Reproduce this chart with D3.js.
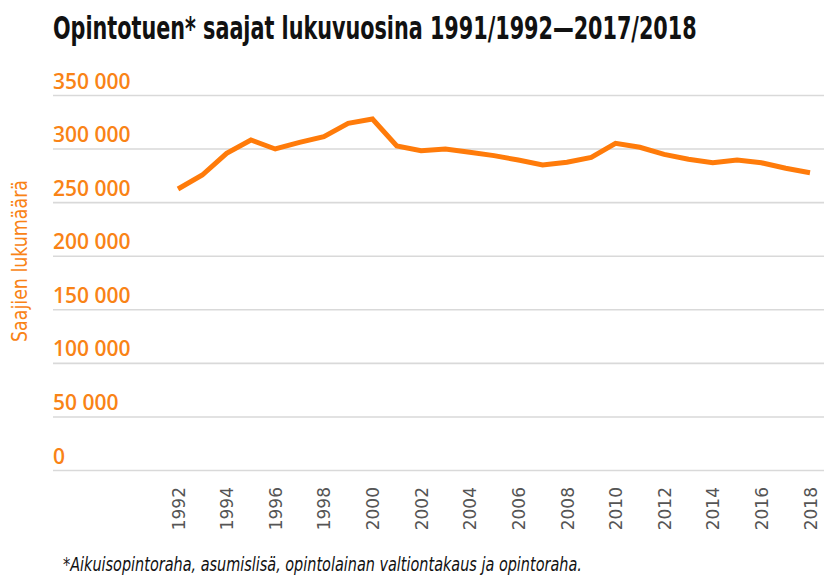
<!DOCTYPE html>
<html>
<head>
<meta charset="utf-8">
<script src="https://cdn.jsdelivr.net/npm/d3@7"></script>
<style>
  html, body { margin: 0; padding: 0; background: #fff; }
  svg { display: block; }
</style>
</head>
<body>
<div id="chart"></div>
<script>
// data
const years = [1992, 1993, 1994, 1995, 1996, 1997, 1998, 1999, 2000, 2001, 2002, 2003, 2004,
               2005, 2006, 2007, 2008, 2009, 2010, 2011, 2012, 2013, 2014, 2015, 2016, 2017, 2018];
const recipients = [262300, 275300, 295600, 308000, 299600, 305800, 311100, 323600, 327600, 302400,
                    298000, 299600, 296500, 293400, 289300, 284700, 287200, 291800, 304900, 301200,
                    294600, 290000, 286800, 289300, 286800, 281600, 277500];
const yTicks = [0, 50000, 100000, 150000, 200000, 250000, 300000, 350000];
const xTicks = [1992, 1994, 1996, 1998, 2000, 2002, 2004, 2006, 2008, 2010, 2012, 2014, 2016, 2018];

const titleText = "Opintotuen* saajat lukuvuosina 1991/1992\u20142017/2018";
const yTitle = "Saajien lukumäärä";
const footText = "*Aikuisopintoraha, asumislisä, opintolainan valtiontakaus ja opintoraha.";

const W = 824, H = 576;
const orange = "#ff7b0a";
const labelOrange = "#f98316";
const narrow = "'Liberation Sans Narrow', 'DejaVu Sans Condensed', 'Roboto Condensed', sans-serif";

const fi = d3.formatLocale({decimal: ",", thousands: " ", grouping: [3], currency: ["", " €"]});
const fmt = fi.format(",d");

const svg = d3.select("#chart").append("svg")
  .attr("width", W)
  .attr("height", H);

// squeeze a text horizontally so that it spans the wanted width
function fitWidth(sel, x0, y0, wanted, rot) {
  const w = sel.node().getComputedTextLength();
  const k = wanted / w;
  sel.attr("x", 0).attr("y", 0)
    .attr("transform", rot
      ? `translate(${x0},${y0}) rotate(-90) scale(${k},1)`
      : `translate(${x0},${y0}) scale(${k},1)`);
}

// scales
const x = d3.scaleLinear().domain([1992, 2018]).range([178, 810]);
const y = d3.scaleLinear().domain([0, 350000]).range([470, 95]);

// title
const title = svg.append("text")
  .attr("font-family", narrow)
  .attr("font-weight", "bold")
  .attr("font-size", 32)
  .attr("fill", "#111")
  .text(titleText);
fitWidth(title, 53, 39, 644, false);

// y axis: gridlines with labels sitting on top
const gy = svg.append("g")
  .attr("transform", "translate(53,0)")
  .call(d3.axisRight(y).tickValues(yTicks).tickSize(W - 53).tickFormat(fmt));

gy.select(".domain").remove();
gy.selectAll(".tick line")
  .attr("stroke", "#d9d9d9")
  .attr("stroke-width", 1.6);
gy.selectAll(".tick text")
  .attr("x", 0)
  .attr("dy", -7)
  .attr("text-anchor", "start")
  .attr("font-family", "'Open Sans', sans-serif")
  .attr("font-weight", 600)
  .attr("font-size", 21)
  .attr("fill", labelOrange);

// y title
const yt = svg.append("text")
  .attr("text-anchor", "middle")
  .attr("font-family", narrow)
  .attr("font-size", 21)
  .attr("fill", labelOrange)
  .text(yTitle);
fitWidth(yt, 27, 261, 162, true);

// x axis, rotated year labels
const gx = svg.append("g")
  .attr("transform", "translate(0,470)")
  .call(d3.axisBottom(x).tickValues(xTicks).tickSize(0).tickFormat(d3.format("d")));

gx.select(".domain").remove();
gx.selectAll(".tick text")
  .attr("transform", "rotate(-90)")
  .attr("x", -17)
  .attr("y", 0)
  .attr("dy", "0.36em")
  .attr("text-anchor", "end")
  .attr("font-family", "'DejaVu Sans', sans-serif")
  .attr("font-size", 17)
  .attr("fill", "#555");

// the line
const line = d3.line()
  .x((d, i) => x(years[i]))
  .y(d => y(d));

svg.append("path")
  .datum(recipients)
  .attr("d", line)
  .attr("fill", "none")
  .attr("stroke", orange)
  .attr("stroke-width", 5)
  .attr("stroke-linejoin", "miter");

// footnote
const foot = svg.append("text")
  .attr("font-family", narrow)
  .attr("font-style", "italic")
  .attr("font-size", 19)
  .attr("fill", "#111")
  .text(footText);
fitWidth(foot, 63, 571, 519, false);
</script>
</body>
</html>
